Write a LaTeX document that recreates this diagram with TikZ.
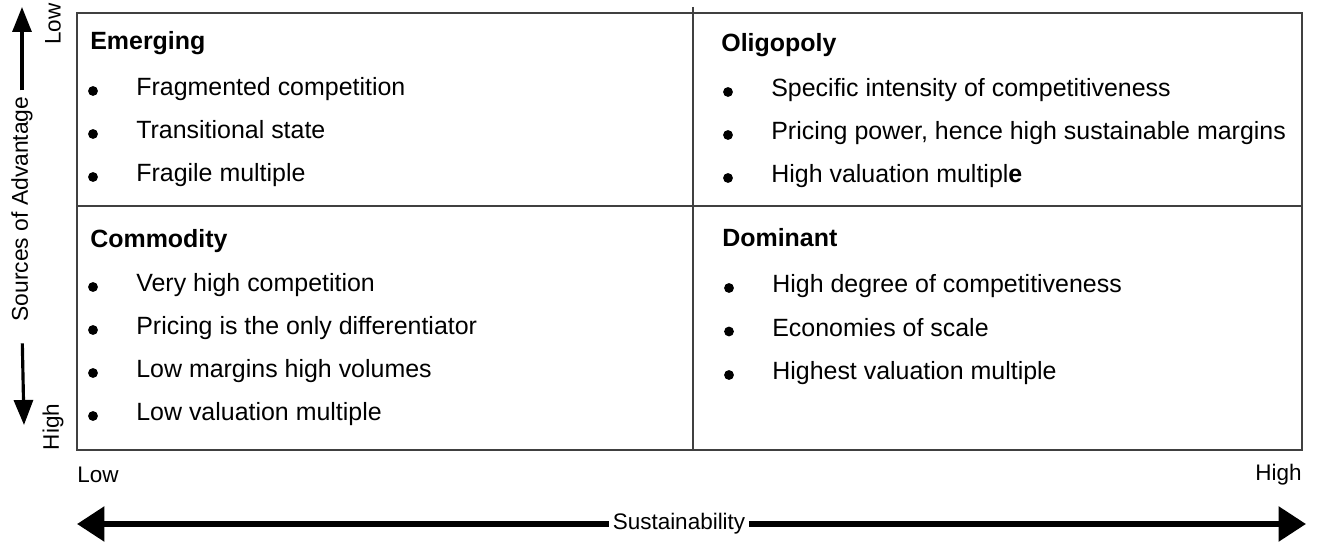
\documentclass[tikz,border=0pt]{standalone}
\usepackage{fontspec}
\setmainfont{Liberation Sans}
\usetikzlibrary{arrows.meta,positioning}

\begin{document}
\begin{tikzpicture}[x=0.02cm,y=-0.02cm,font=\fontsize{14.2}{17}\selectfont,
  head/.style={anchor=base west,inner sep=0pt,font=\fontsize{14.2}{17}\selectfont\bfseries},
  item/.style={anchor=base west,inner sep=0pt},
  dot/.style={circle,fill,inner sep=0pt,minimum size=5.6pt},
  axislbl/.style={font=\fontsize{12.8}{15}\selectfont},
  sidearrow/.style={line width=1.8pt,-{Triangle[length=0.5cm,width=0.38cm]}},
  basearrow/.style={line width=3.4pt,-{Triangle[length=0.55cm,width=0.68cm]}}]
\useasboundingbox (0,0) rectangle (1319,543);
% grid
\draw[line width=0.8pt,black!75] (77,13) rectangle (1302,450);
\draw[line width=0.6pt,black!75] (693,7) -- (693,450);
\draw[line width=0.6pt,black!75] (77,206) -- (1302,206);
% quadrant headings
\node[head] (emerging) at (90,50) {Emerging};
\node[head] (oligopoly) at (721,52) {Oligopoly};
\node[head] (commodity) at (90,248) {Commodity};
\node[head] (dominant) at (722,247) {Dominant};
% bullets
\foreach \txt [count=\i] in {Fragmented competition,Transitional state,Fragile multiple}{
  \node[dot] (emd\i) at (93,{91+43*(\i-1)}) {};
  \node[item] (em\i) at (136,{96+43*(\i-1)}) {\txt};
}
\foreach \txt [count=\i] in {Specific intensity of competitiveness,
    {Pricing power, hence high sustainable margins},
    High valuation multipl\textbf{e}}{
  \node[dot] (old\i) at (728,{92+43*(\i-1)}) {};
  \node[item] (ol\i) at (771,{97+43*(\i-1)}) {\txt};
}
\foreach \txt [count=\i] in {Very high competition,Pricing is the only differentiator,
    Low margins high volumes,Low valuation multiple}{
  \node[dot] (cod\i) at (93,{287+43*(\i-1)}) {};
  \node[item] (co\i) at (136,{291.5+43*(\i-1)}) {\txt};
}
\foreach \txt [count=\i] in {High degree of competitiveness,Economies of scale,
    Highest valuation multiple}{
  \node[dot] (dod\i) at (729,{288+43.5*(\i-1)}) {};
  \node[item] (do\i) at (772,{293+43.5*(\i-1)}) {\txt};
}
% vertical axis
\node[axislbl,rotate=90,font=\fontsize{13}{15}\selectfont] (src) at (22,209) {Sources of Advantage};
\node[axislbl,rotate=90] (vlow) at (53,24) {Low};
\node[axislbl,rotate=90] (vhigh) at (53,427) {High};
\coordinate (srctop) at (22,7);
\coordinate (srcbot) at (24,425);
\draw[sidearrow] (src.east) -- (srctop);
\draw[sidearrow,shorten <=9pt] (src.west) -- (srcbot);
% horizontal axis
\node[axislbl,anchor=west,inner sep=0pt] (hlow) at (77,475) {Low};
\node[axislbl,anchor=east,inner sep=0pt] (hhigh) at (1302,475) {High};
\node[axislbl,inner sep=2pt] (sus) at (679,524) {Sustainability};
\coordinate (susleft) at (77,524);
\coordinate (susright) at (1306,524);
\draw[basearrow] (sus.west) -- (susleft);
\draw[basearrow] (sus.east) -- (susright);
\end{tikzpicture}
\end{document}
